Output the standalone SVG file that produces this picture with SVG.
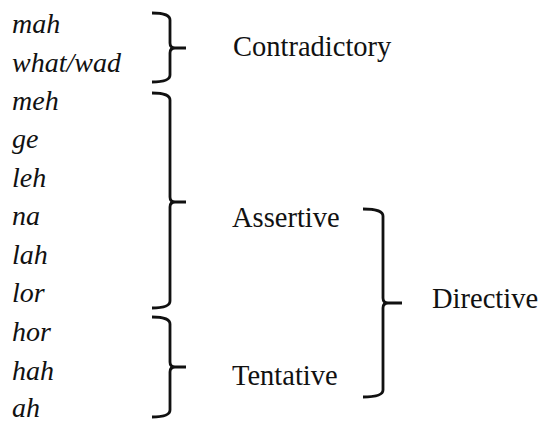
<svg xmlns="http://www.w3.org/2000/svg" width="542" height="422" viewBox="0 0 542 422">
<style>
.w{font-family:"Liberation Serif","Times New Roman",serif;font-style:italic;font-size:28px;fill:#111}
.c{font-family:"Liberation Serif","Times New Roman",serif;font-size:28.5px;fill:#111}
.b{fill:none;stroke:#111;stroke-width:2.8;stroke-linejoin:round;stroke-linecap:butt}
</style>
<rect width="542" height="422" fill="#fff"/>
<g id="words">
<text class="w" x="12" y="33">mah</text>
<text class="w" x="12" y="72">what/wad</text>
<text class="w" x="12" y="110">meh</text>
<text class="w" x="12" y="148">ge</text>
<text class="w" x="12" y="187">leh</text>
<text class="w" x="12" y="225">na</text>
<text class="w" x="12" y="264">lah</text>
<text class="w" x="12" y="302">lor</text>
<text class="w" x="12" y="341">hor</text>
<text class="w" x="12" y="380">hah</text>
<text class="w" x="12" y="417">ah</text>
</g>
<g id="connectors">
<path class="b" d="M152,13 Q170,13 170,20 L170,43 Q170,48 175,48 L186,48 M175,48 Q170,48 170,53 L170,75 Q170,82 152,82"/>
<path class="b" d="M152,93 Q170,93 170,100 L170,197 Q170,202 175,202 L186,202 M175,202 Q170,202 170,207 L170,301 Q170,308 152,308"/>
<path class="b" d="M152,317 Q170,317 170,324 L170,362 Q170,367 175,367 L186,367 M175,367 Q170,367 170,372 L170,410 Q170,417 152,417"/>
<path class="b" d="M363,209 Q383,209 383,216 L383,298 Q383,303 388,303 L402,303 M388,303 Q383,303 383,308 L383,390 Q383,397 363,397"/>
</g>
<g id="contradictory"><text class="c" x="233" y="56">Contradictory</text></g>
<g id="assertive"><text class="c" x="232" y="227">Assertive</text></g>
<g id="tentative"><text class="c" x="232" y="385">Tentative</text></g>
<g id="directive"><text class="c" x="432" y="308">Directive</text></g>
</svg>
